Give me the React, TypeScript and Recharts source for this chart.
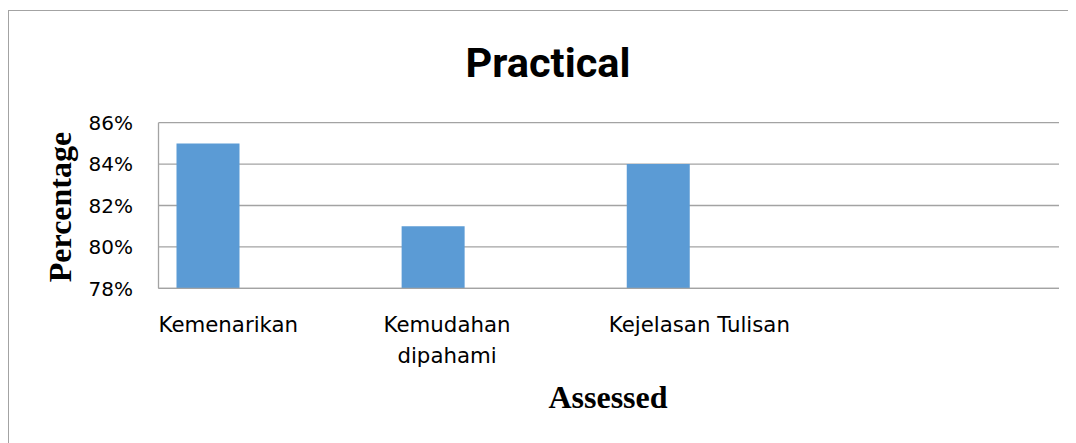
import React from "react";
import { BarChart, Bar, XAxis, YAxis, CartesianGrid } from "recharts";

const categories = ["Kemenarikan", "Kemudahan dipahami", "Kejelasan Tulisan", ""];
const tickLines = [["Kemenarikan"], ["Kemudahan", "dipahami"], ["Kejelasan Tulisan"], [""]];
const practicalValues = [0.85, 0.81, 0.84, null];
const seriesTwo = [null, null, null, null];
const seriesThree = [null, null, null, null];
const yTicks = [0.78, 0.8, 0.82, 0.84, 0.86];

const data = categories.map((name, i) => ({
  name,
  idx: i,
  s1: practicalValues[i],
  s2: seriesTwo[i],
  s3: seriesThree[i],
}));

const W = 1068;
const H = 435;
const YW = 150.5;
const MR = 17;
const MT = 114.7;
const XH = 60;
const MB = H - 280.3 - XH;
const BAND = (W - YW - MR) / categories.length;
const GRAY = "#a3a3a3";
const CAT_FONT = '21.3px "DejaVu Sans"';

let ctx: CanvasRenderingContext2D | null = null;
function measure(t: string): number {
  if (!ctx) ctx = document.createElement("canvas").getContext("2d");
  if (!ctx) return t.length * 11;
  ctx.font = CAT_FONT;
  return ctx.measureText(t).width;
}

const YTick = (props: any) => {
  const { x, y, payload } = props;
  return (
    <text x={x + 0.5} y={y + 7.2} textAnchor="end" fontFamily="DejaVu Sans" fontSize={20} fill="#000">
      {Math.round(payload.value * 100)}%
    </text>
  );
};

const XTick = (props: any) => {
  const { x, y, index } = props;
  const lines = tickLines[index] || [""];
  const start = x - BAND / 2;
  const blockW = Math.max(...lines.map(measure));
  return (
    <g>
      {lines.map((l, i) => (
        <text
          key={i}
          x={start + blockW / 2}
          y={y + 44}
          dy={i * 31}
          textAnchor="middle"
          fontFamily="DejaVu Sans"
          fontSize={21.3}
          fill="#000"
        >
          {l}
        </text>
      ))}
    </g>
  );
};

export default function App() {
  return (
    <div style={{ position: "relative", width: W, height: H, overflow: "hidden", background: "#fff" }}>
      <div
        style={{
          position: "absolute",
          left: 0,
          top: 2.25,
          width: 3000,
          height: 3000,
          borderLeft: `1.5px solid ${GRAY}`,
          borderTop: `1.5px solid ${GRAY}`,
          boxSizing: "border-box",
        }}
      />
      <div style={{ position: "absolute", left: 0, top: 0 }}>
        <BarChart
          width={W}
          height={H}
          data={data}
          margin={{ top: MT, right: MR, bottom: MB, left: 0 }}
          barCategoryGap={18}
          barGap={0}
        >
          <CartesianGrid vertical={false} stroke={GRAY} strokeWidth={1.3} />
          <XAxis
            dataKey="name"
            height={XH}
            interval={0}
            tickLine={false}
            tickSize={0}
            tickMargin={0}
            axisLine={{ stroke: GRAY, strokeWidth: 1.3 }}
            tick={<XTick />}
          />
          <YAxis
            width={YW}
            domain={[0.78, 0.86]}
            ticks={yTicks}
            allowDataOverflow
            tickLine={false}
            tickSize={0}
            tickMargin={26}
            axisLine={{ stroke: GRAY, strokeWidth: 1.3 }}
            tick={<YTick />}
          />
          <Bar dataKey="s1" fill="#5B9BD5" isAnimationActive={false} />
          <Bar dataKey="s2" fill="#ED7D31" isAnimationActive={false} />
          <Bar dataKey="s3" fill="#A5A5A5" isAnimationActive={false} />
        </BarChart>
      </div>
      <svg
        width={W}
        height={H}
        style={{ position: "absolute", left: 0, top: 0, pointerEvents: "none" }}
      >
        <text x={540} y={68.7} textAnchor="middle" fontFamily="Roboto" fontWeight="bold" fontSize={41.5} fill="#000">
          Practical
        </text>
        <text x={600} y={400.3} textAnchor="middle" fontFamily="Liberation Serif" fontWeight="bold" fontSize={32} fill="#000">
          Assessed
        </text>
        <text
          x={63}
          y={199}
          transform="rotate(-90, 63, 199)"
          textAnchor="middle"
          fontFamily="Liberation Serif"
          fontWeight="bold"
          fontSize={32}
          fill="#000"
        >
          Percentage
        </text>
      </svg>
    </div>
  );
}
